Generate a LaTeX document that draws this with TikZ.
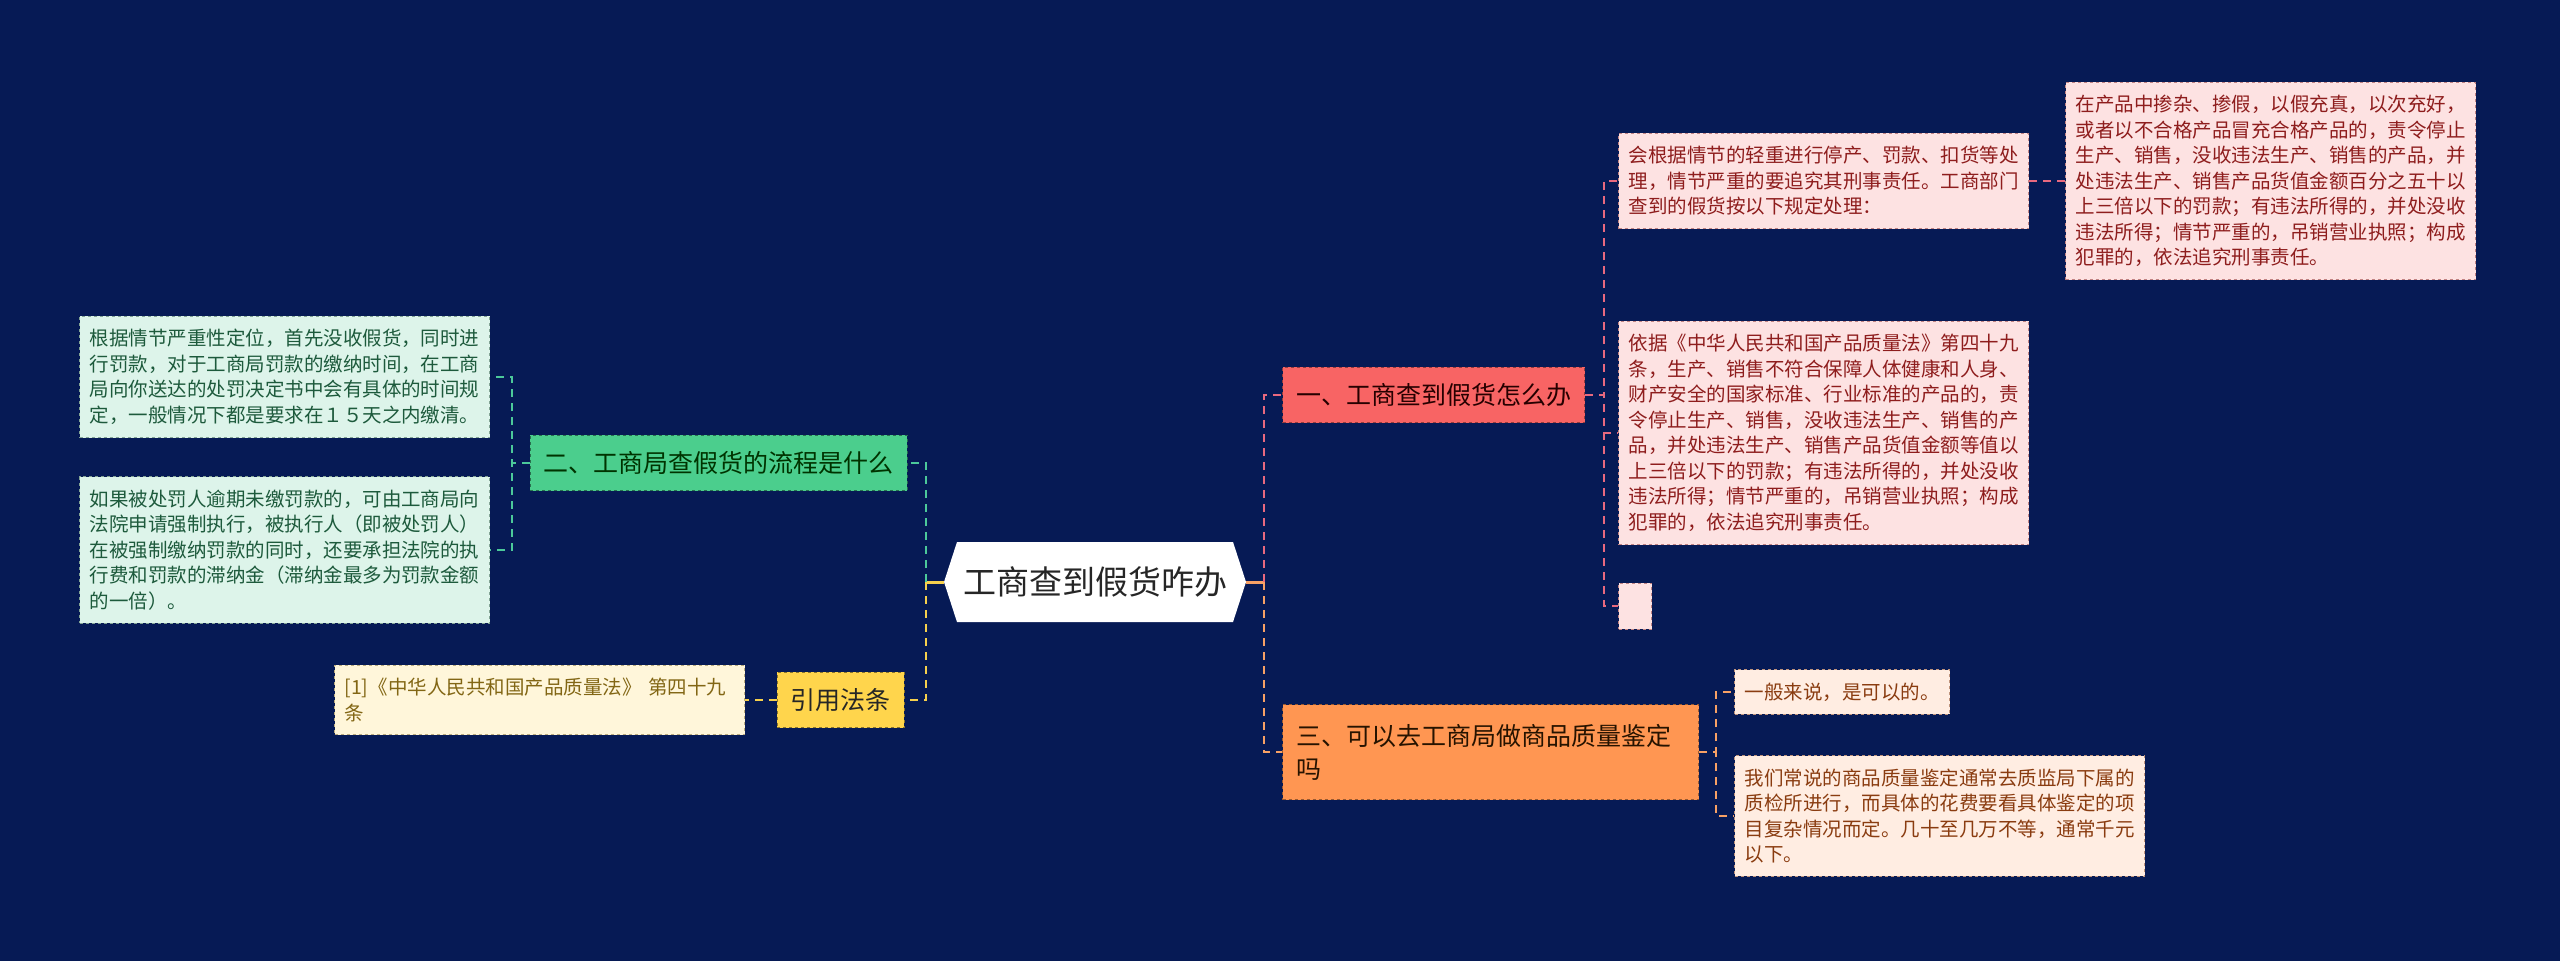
\documentclass[tikz,border=0pt]{standalone}
\usepackage{fontspec}
\setmainfont{Noto Sans CJK SC}
\usepackage{xcolor}
\definecolor{bgnavy}{HTML}{061A55}
\definecolor{redmain}{HTML}{F86464}
\definecolor{greenmain}{HTML}{4BCE8D}
\definecolor{orangemain}{HTML}{FF9652}
\definecolor{yellowmain}{HTML}{FFD54C}
\definecolor{redleaf}{HTML}{FDE2E2}
\definecolor{greenleaf}{HTML}{DDF4EA}
\definecolor{orangeleaf}{HTML}{FFEDE2}
\definecolor{yellowleaf}{HTML}{FFF6DA}
\definecolor{redtext}{HTML}{8E1D1D}
\definecolor{greentext}{HTML}{1D5A3C}
\definecolor{orangetext}{HTML}{8A3C10}
\definecolor{yellowtext}{HTML}{826614}
\definecolor{redlink}{HTML}{E8697F}
\definecolor{greenlink}{HTML}{4CC99A}
\definecolor{orangelink}{HTML}{F7A165}
\definecolor{yellowlink}{HTML}{F6D04D}
\usepackage{tikz}
\usetikzlibrary{shapes.symbols}

\begin{document}
\begin{tikzpicture}[x=1pt,y=-1pt,
    mainnode/.style={draw,dashed,line width=1.2pt,inner xsep=13.5pt,inner ysep=16pt,align=left,
      font=\fontsize{25}{33}\selectfont},
    leaf/.style={draw,dashed,line width=1pt,inner xsep=10pt,inner ysep=13pt,align=left,
      font=\fontsize{19.5}{25.5}\selectfont},
    link/.style={line width=2pt,dash pattern=on 8pt off 6pt},
    stub/.style={line width=3pt}]
  \fill[bgnavy] (0,0) rectangle (2560,961);
  \useasboundingbox (0,0) rectangle (2560,961);

  % centre
  \node[signal,signal to=east and west,signal pointer angle=144,fill=white,
    minimum width=302,minimum height=80,inner sep=0pt,text=black!85,
    font=\fontsize{33}{33}\selectfont] (root) at (1095,582) {工商查到假货咋办};

  % right side
  \node[mainnode,anchor=west,fill=redmain,draw=redmain!60!black,text=black!85!red] (fake) at (1282,395) {一、工商查到假货怎么办};
  \node[mainnode,anchor=west,fill=orangemain,draw=orangemain!60!black,text=black!85!orange,
    text width=389pt,minimum height=95pt,inner ysep=12pt] (check) at (1282,752) {三、可以去工商局做商品质量鉴定\\吗};

  \node[leaf,anchor=west,fill=redleaf,draw=redtext!55,text=redtext] (deal) at (1618,181)
    {会根据情节的轻重进行停产、罚款、扣货等处\\理，情节严重的要追究其刑事责任。工商部门\\查到的假货按以下规定处理：};
  \node[leaf,anchor=west,fill=redleaf,draw=redtext!55,text=redtext] (dealrule) at (2065,181)
    {在产品中掺杂、掺假，以假充真，以次充好，\\或者以不合格产品冒充合格产品的，责令停止\\生产、销售，没收违法生产、销售的产品，并\\处违法生产、销售产品货值金额百分之五十以\\上三倍以下的罚款；有违法所得的，并处没收\\违法所得；情节严重的，吊销营业执照；构成\\犯罪的，依法追究刑事责任。};
  \node[leaf,anchor=west,fill=redleaf,draw=redtext!55,text=redtext] (law) at (1618,433)
    {依据《中华人民共和国产品质量法》第四十九\\条，生产、销售不符合保障人体健康和人身、\\财产安全的国家标准、行业标准的产品的，责\\令停止生产、销售，没收违法生产、销售的产\\品，并处违法生产、销售产品货值金额等值以\\上三倍以下的罚款；有违法所得的，并处没收\\违法所得；情节严重的，吊销营业执照；构成\\犯罪的，依法追究刑事责任。};
  \node[leaf,anchor=west,fill=redleaf,draw=redtext!55,minimum width=33pt,minimum height=46pt,inner sep=0pt] (blank) at (1618,606) {};

  \node[leaf,anchor=west,fill=orangeleaf,draw=orangetext!55,text=orangetext] (yes) at (1734,692)
    {一般来说，是可以的。};
  \node[leaf,anchor=west,fill=orangeleaf,draw=orangetext!55,text=orangetext] (cost) at (1734,816)
    {我们常说的商品质量鉴定通常去质监局下属的\\质检所进行，而具体的花费要看具体鉴定的项\\目复杂情况而定。几十至几万不等，通常千元\\以下。};

  % left side
  \node[mainnode,anchor=east,fill=greenmain,draw=greenmain!55!black,text=black!80!green] (flow) at (908,463) {二、工商局查假货的流程是什么};
  \node[mainnode,anchor=east,fill=yellowmain,draw=yellowmain!55!black,text=black!85] (cite) at (905,700) {引用法条};

  \node[leaf,anchor=east,fill=greenleaf,draw=greentext!55,text=greentext] (fine) at (490,377)
    {根据情节严重性定位，首先没收假货，同时进\\行罚款，对于工商局罚款的缴纳时间，在工商\\局向你送达的处罚决定书中会有具体的时间规\\定，一般情况下都是要求在１５天之内缴清。};
  \node[leaf,anchor=east,fill=greenleaf,draw=greentext!55,text=greentext] (court) at (490,550)
    {如果被处罚人逾期未缴罚款的，可由工商局向\\法院申请强制执行，被执行人（即被处罚人）\\在被强制缴纳罚款的同时，还要承担法院的执\\行费和罚款的滞纳金（滞纳金最多为罚款金额\\的一倍）。};
  \node[leaf,anchor=east,fill=yellowleaf,draw=yellowtext!55,text=yellowtext,text width=390pt] (source) at (745,700)
    {[1]《中华人民共和国产品质量法》 第四十九\\条};

  % connectors
  \draw[stub,orangelink] (root.east) -- ++(18,0);
  \draw[link,redlink] (root.east) ++(18,0) |- (fake.west);
  \draw[link,orangelink] (root.east) ++(18,0) |- (check.west);
  \draw[stub,yellowlink] (root.west) -- ++(-18,0);
  \draw[link,greenlink] (root.west) ++(-18,0) |- (flow.east);
  \draw[link,yellowlink] (root.west) ++(-18,0) |- (cite.east);

  \foreach \leafname in {deal,law,blank}
    \draw[link,redlink] (fake.east) -- ++(19,0) |- (\leafname.west);
  \draw[link,redlink] (deal.east) -- (dealrule.west);
  \foreach \leafname in {yes,cost}
    \draw[link,orangelink] (check.east) -- ++(17,0) |- (\leafname.west);
  \foreach \leafname in {fine,court}
    \draw[link,greenlink] (flow.west) -- ++(-18,0) |- (\leafname.east);
  \draw[link,yellowlink] (cite.west) -- (source.east);
\end{tikzpicture}
\end{document}
